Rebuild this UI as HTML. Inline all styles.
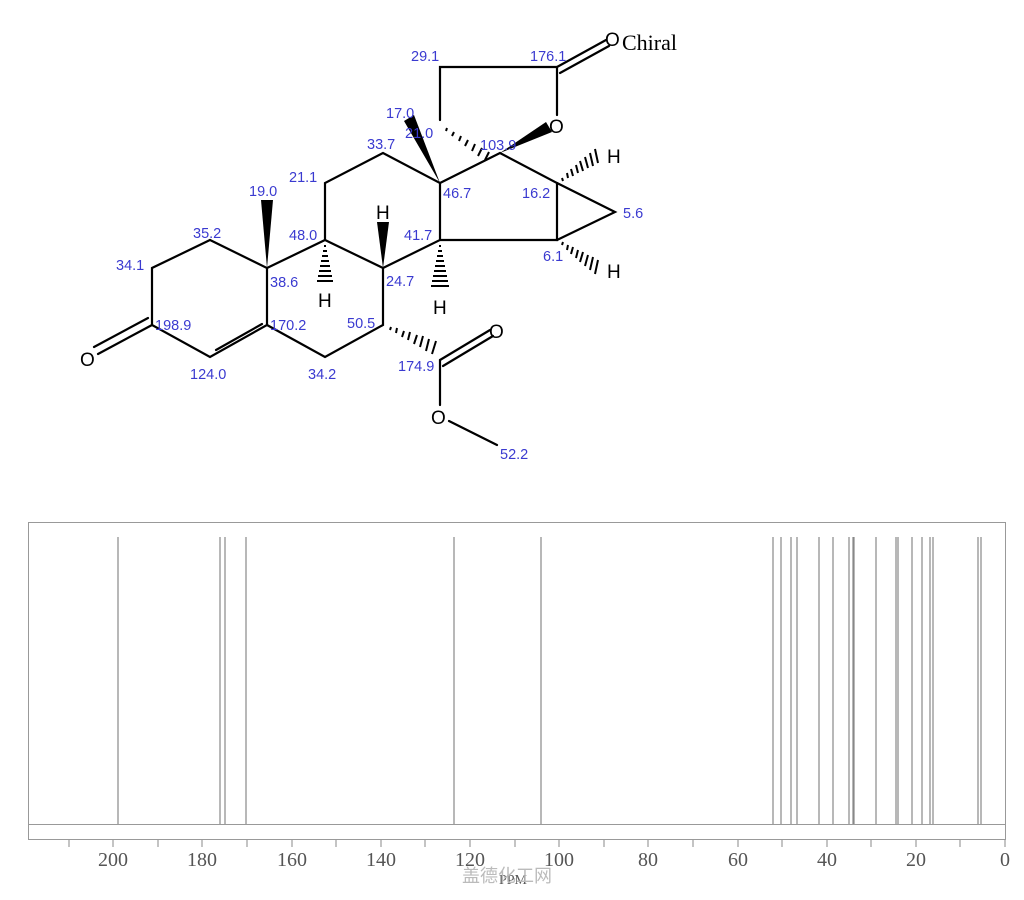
<!DOCTYPE html>
<html><head><meta charset="utf-8"><style>
html,body{margin:0;padding:0;background:#fff;width:1024px;height:900px;overflow:hidden}
svg{display:block}
.l{font-family:"Liberation Sans",sans-serif;font-size:14.5px;fill:#3a3ad0}
.a{font-family:"Liberation Sans",sans-serif;font-size:19px;fill:#000}
.ax{font-family:"Liberation Serif",serif;font-size:20px;fill:#555}
</style></head><body>
<svg width="1024" height="900" viewBox="0 0 1024 900" xmlns="http://www.w3.org/2000/svg">
<g stroke="#000" stroke-width="2.2" fill="none" stroke-linecap="round">
<path d="M152,325 L152,268 L210,240 L267,268 L267,325 L210,357 Z"/>
<path d="M216,350 L262,324"/>
<path d="M152,325 L98,354 M148,318 L94,347"/>
<path d="M267,268 L325,240 L383,268 L383,325 L325,357 L267,325"/>
<path d="M325,240 L325,183 L383,153 L440,183 L440,240 L383,268"/>
<path d="M440,183 L500,153 L557,183 L557,240 L440,240"/>
<path d="M557,183 L615,212 L557,240"/>
<path d="M440,120 L440,67 L557,67 L557,115"/>
<path d="M557,67 L606,40 M560,73 L609,46"/>
<path d="M440,360 L440,405 M449,421 L497,445"/>
<path d="M440,360 L490,330 M443,366 L493,336"/>
</g>
<polygon points="267,268 261,200 273,200" fill="#000"/>
<polygon points="383,268 377,222 389,222" fill="#000"/>
<polygon points="440,183 404,121 414,115" fill="#000"/>
<polygon points="500,153 546,122 552,132" fill="#000"/>
<g stroke="#000" stroke-width="2">
<path d="M324,246h2M323,251h4M322,256h6M321,261h8M320,266h10M319,271h12M318,276h14M317,281h16"/>
<path d="M439,246h2M438,251h4M437,256h6M436,261h8M435,266h10M434,271h12M433,276h14M432,281h16M431,286h18"/>
<path d="M563,181l-1,-3M568,178l-1,-5M573,176l-2,-7M578,173l-2,-8M583,171l-3,-10M588,168l-3,-11M593,166l-3,-13M598,163l-3,-14"/>
<path d="M563,242l-1,3M568,245l-1,5M573,247l-2,7M578,250l-2,8M583,252l-3,10M588,255l-3,11M593,257l-3,13M598,260l-3,14"/>
<path d="M447,128l-1,3M454,132l-2,4M461,136l-2,5M468,140l-3,6M475,144l-3,7M482,148l-4,8M489,152l-4,8"/>
<path d="M390,330l1,-3M396,333l1,-5M402,337l2,-6M408,340l2,-8M414,344l3,-9M420,347l3,-11M426,351l3,-12M432,354l4,-13"/>
</g>
<g class="a">
<text x="80" y="366">O</text>
<text x="318" y="307">H</text>
<text x="376" y="219">H</text>
<text x="433" y="314">H</text>
<text x="607" y="163">H</text>
<text x="607" y="278">H</text>
<text x="549" y="133">O</text>
<text x="489" y="338">O</text>
<text x="431" y="424">O</text>
<text x="605" y="46">O</text>
</g>
<text x="622" y="50" style="font-family:'Liberation Serif',serif;font-size:22px;fill:#000">Chiral</text>
<g class="l">
<text x="155" y="330">198.9</text>
<text x="190" y="379">124.0</text>
<text x="270" y="330">170.2</text>
<text x="270" y="287">38.6</text>
<text x="193" y="238">35.2</text>
<text x="116" y="270">34.1</text>
<text x="249" y="196">19.0</text>
<text x="289" y="240">48.0</text>
<text x="289" y="182">21.1</text>
<text x="367" y="149">33.7</text>
<text x="386" y="118">17.0</text>
<text x="405" y="138">21.0</text>
<text x="443" y="198">46.7</text>
<text x="404" y="240">41.7</text>
<text x="386" y="286">24.7</text>
<text x="347" y="328">50.5</text>
<text x="308" y="379">34.2</text>
<text x="398" y="371">174.9</text>
<text x="500" y="459">52.2</text>
<text x="411" y="61">29.1</text>
<text x="530" y="61">176.1</text>
<text x="480" y="150">103.9</text>
<text x="522" y="198">16.2</text>
<text x="623" y="218">5.6</text>
<text x="543" y="261">6.1</text>
</g>
<rect x="28.5" y="522.5" width="977" height="317" fill="none" stroke="#999" stroke-width="1"/>
<line x1="28" y1="824.5" x2="1006" y2="824.5" stroke="#999" stroke-width="1"/>
<g stroke="#888" stroke-width="1.2">
<path d="M118,537V824M220,537V824M225,537V824M246,537V824M454,537V824M541,537V824M773,537V824M781,537V824M791,537V824M797,537V824M819,537V824M833,537V824M849,537V824M853,537V824M854,537V824M876,537V824M896,537V824M898,537V824M912,537V824M922,537V824M930,537V824M933,537V824M978,537V824M981,537V824"/>
</g>
<g stroke="#888" stroke-width="1">
<path d="M69,840v7M113,840v7M158,840v7M202,840v7M247,840v7M292,840v7M336,840v7M381,840v7M425,840v7M470,840v7M515,840v7M559,840v7M604,840v7M648,840v7M693,840v7M738,840v7M782,840v7M827,840v7M871,840v7M916,840v7M960,840v7M1005,840v7"/>
</g>
<g class="ax" text-anchor="middle">
<text x="113" y="866">200</text><text x="202" y="866">180</text><text x="292" y="866">160</text>
<text x="381" y="866">140</text><text x="470" y="866">120</text><text x="559" y="866">100</text>
<text x="648" y="866">80</text><text x="738" y="866">60</text><text x="827" y="866">40</text>
<text x="916" y="866">20</text><text x="1005" y="866">0</text>
<text x="513" y="884" style="font-size:14px">PPM</text>
</g>
<text x="462" y="882" style="font-family:'Noto Sans CJK SC',sans-serif;font-size:18px;fill:#bbb">盖德化工网</text>
</svg>
</body></html>
